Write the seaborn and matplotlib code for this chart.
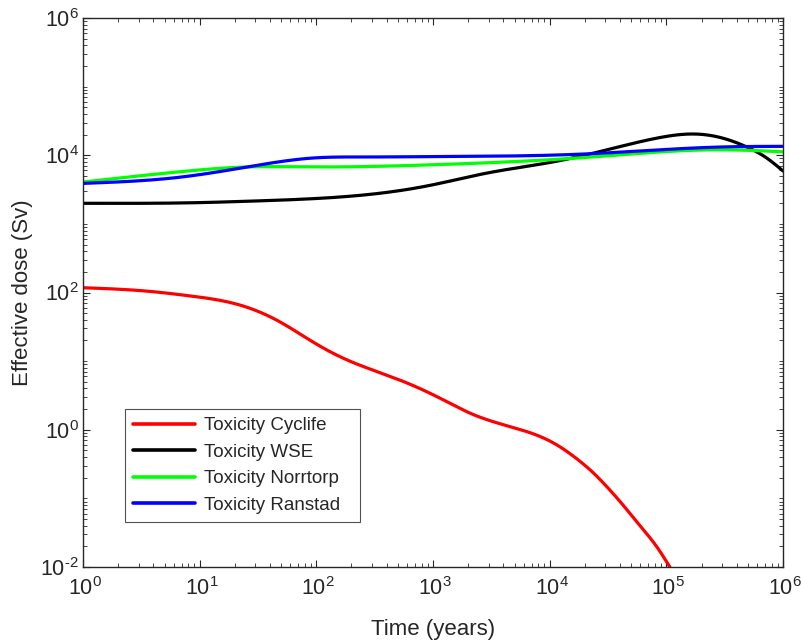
import numpy as np
import pandas as pd
import matplotlib
matplotlib.use("Agg")
import matplotlib.pyplot as plt
import matplotlib.transforms as mtrans
import seaborn as sns
from matplotlib.ticker import LogLocator, FuncFormatter, NullFormatter

# log10(time) / log10(dose) pairs
cyclife_t = [0.0, 0.55, 0.92, 1.34, 1.69, 1.97, 2.26, 2.55, 2.78, 3.06, 3.32, 3.55, 3.81, 4.03, 4.26, 4.35, 4.49, 4.63, 4.77, 4.92, 5.03]
cyclife_d = [2.07, 2.02, 1.95, 1.82, 1.57, 1.28, 1.02, 0.83, 0.68, 0.46, 0.24, 0.10, -0.03, -0.19, -0.46, -0.59, -0.83, -1.10, -1.39, -1.71, -2.0]

wse_t = [0.0, 1.0, 1.41, 2.0, 2.4, 2.97, 3.46, 4.05, 4.54, 4.95, 5.23, 5.46, 5.69, 5.86, 6.0]
wse_d = [3.30, 3.31, 3.33, 3.37, 3.42, 3.56, 3.74, 3.91, 4.10, 4.26, 4.31, 4.26, 4.12, 3.96, 3.77]

norr_t = [0.0, 0.83, 1.41, 1.97, 2.97, 4.32, 5.46, 6.0]
norr_d = [3.61, 3.76, 3.83, 3.83, 3.86, 3.97, 4.08, 4.05]

ran_t = [0.0, 0.83, 1.41, 1.97, 2.4, 2.97, 4.32, 5.46, 6.0]
ran_d = [3.59, 3.68, 3.83, 3.96, 3.975, 3.98, 4.02, 4.12, 4.13]

labels = ["Toxicity Cyclife", "Toxicity WSE", "Toxicity Norrtorp", "Toxicity Ranstad"]
colors = ["#ff0000", "#000000", "#00ff00", "#0000ff"]


def natural_spline(x, y, xn):
    x = np.asarray(x, float)
    y = np.asarray(y, float)
    n = len(x)
    h = np.diff(x)
    A = np.zeros((n, n))
    b = np.zeros(n)
    A[0, 0] = 1.0
    A[-1, -1] = 1.0
    for i in range(1, n - 1):
        A[i, i - 1] = h[i - 1]
        A[i, i] = 2 * (h[i - 1] + h[i])
        A[i, i + 1] = h[i]
        b[i] = 6 * ((y[i + 1] - y[i]) / h[i] - (y[i] - y[i - 1]) / h[i - 1])
    M = np.linalg.solve(A, b)
    idx = np.clip(np.searchsorted(x, xn) - 1, 0, n - 2)
    xi, xi1, hi = x[idx], x[idx + 1], h[idx]
    return (M[idx] * (xi1 - xn) ** 3 / (6 * hi) + M[idx + 1] * (xn - xi) ** 3 / (6 * hi)
            + (y[idx] / hi - M[idx] * hi / 6) * (xi1 - xn)
            + (y[idx + 1] / hi - M[idx + 1] * hi / 6) * (xn - xi))


frames = []
for lab, t, d in zip(labels, [cyclife_t, wse_t, norr_t, ran_t], [cyclife_d, wse_d, norr_d, ran_d]):
    tt = np.linspace(t[0], t[-1], 500)
    dd = natural_spline(t, d, tt)
    frames.append(pd.DataFrame({"Time": 10 ** tt, "Dose": 10 ** dd, "Series": lab}))
df = pd.concat(frames, ignore_index=True)

sns.set_style("ticks")
plt.rcParams["font.family"] = ["Liberation Sans", "DejaVu Sans"]
plt.rcParams["mathtext.fontset"] = "custom"
plt.rcParams["mathtext.rm"] = "Liberation Sans"
plt.rcParams["mathtext.it"] = "Liberation Sans"

fig = plt.figure(figsize=(8.01, 6.41), dpi=100)
ax = fig.add_axes([0.1036, 0.1154, 0.874, 0.8565])

sns.lineplot(data=df, x="Time", y="Dose", hue="Series", hue_order=labels,
             palette=colors, linewidth=2.3, ax=ax, sort=False, estimator=None)


def log_fmt(v, pos):
    e = int(round(np.log10(v)))
    if e < 0:
        return r"$\mathdefault{10^{\text{-}%d}}$" % (-e)
    return r"$\mathdefault{10^{%d}}$" % e


ax.set_xscale("log")
ax.set_yscale("log")
ax.set_xticks([1, 1e1, 1e2, 1e3, 1e4, 1e5, 1e6])
ax.set_yticks([1e-2, 1e0, 1e2, 1e4, 1e6])
ax.xaxis.set_minor_locator(LogLocator(base=10, subs=np.arange(2, 10), numticks=20))
ax.yaxis.set_minor_locator(LogLocator(base=10, subs=np.arange(1, 10), numticks=40))
ax.xaxis.set_minor_formatter(NullFormatter())
ax.yaxis.set_minor_formatter(NullFormatter())
ax.xaxis.set_major_formatter(FuncFormatter(log_fmt))
ax.yaxis.set_major_formatter(FuncFormatter(log_fmt))
ax.set_xlim(1, 1e6)
ax.set_ylim(1e-2, 1e6)

ax.tick_params(which="both", direction="in", top=True, right=True, colors="#262626", labelcolor="#262626")
ax.tick_params(which="major", length=5, width=0.8, labelsize=15.5)
ax.tick_params(axis="x", which="major", pad=7)
ax.tick_params(axis="y", which="major", pad=3)
ax.tick_params(which="minor", length=3, width=0.6)
for s in ax.spines.values():
    s.set_color("#262626")
    s.set_linewidth(1.0)

off = mtrans.ScaledTranslation(2 / 100, 0, fig.dpi_scale_trans)
for lbl in ax.get_xticklabels():
    lbl.set_transform(lbl.get_transform() + off)

ax.set_xlabel("Time (years)", fontsize=16, color="#262626", labelpad=14)
ax.set_ylabel("Effective dose (Sv)", fontsize=16, color="#262626", labelpad=5)

leg = ax.legend(loc="lower left", bbox_to_anchor=(0.06, 0.082, 0.336, 0.0), mode="expand",
                fontsize=13.5, frameon=True, fancybox=False, handlelength=3.3, borderpad=0.45,
                labelspacing=0.5, handletextpad=0.45, borderaxespad=0.0)
leg.get_frame().set_edgecolor("#262626")
leg.get_frame().set_linewidth(0.8)
for line in leg.get_lines():
    line.set_linewidth(2.6)

fig.savefig("out.png", dpi=100)
